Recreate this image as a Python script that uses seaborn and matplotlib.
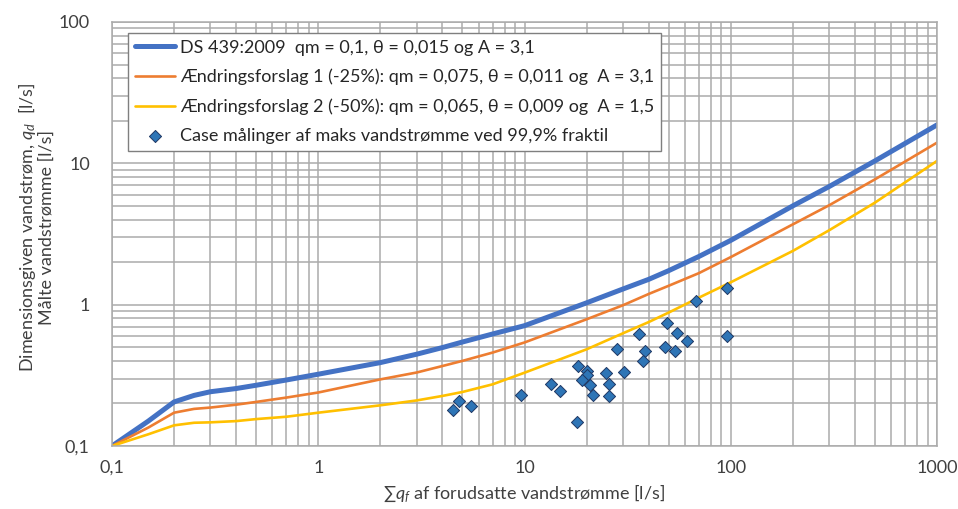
import numpy as np
import pandas as pd
import matplotlib
matplotlib.use("Agg")
import matplotlib.pyplot as plt
import seaborn as sns
from matplotlib.ticker import LogLocator, FuncFormatter, NullFormatter

# curves (x = sum q_f, y = q_d), l/s
sum_qf = [0.1, 0.15, 0.2, 0.25, 0.3, 0.4, 0.5, 0.7, 1, 2, 3, 4, 5, 7, 10,
          20, 30, 40, 50, 70, 100, 200, 300, 500, 1000]
qd_ds439 = [0.1, 0.15, 0.205, 0.228, 0.242, 0.255, 0.269, 0.293, 0.322, 0.389,
            0.446, 0.497, 0.544, 0.62, 0.71, 1.03, 1.29, 1.51, 1.74, 2.19,
            2.85, 5.0, 6.85, 10.4, 18.7]
qd_forslag1 = [0.1, 0.135, 0.172, 0.183, 0.187, 0.196, 0.205, 0.22, 0.239,
               0.296, 0.331, 0.368, 0.4, 0.458, 0.54, 0.788, 0.99, 1.19, 1.36,
               1.67, 2.17, 3.7, 5.05, 7.7, 14.0]
qd_forslag2 = [0.1, 0.121, 0.14, 0.146, 0.147, 0.15, 0.155, 0.161, 0.172,
               0.194, 0.21, 0.226, 0.241, 0.273, 0.33, 0.483, 0.627, 0.753,
               0.879, 1.12, 1.44, 2.4, 3.36, 5.27, 10.4]

# case measurements (99,9% fractile)
maal_x = [4.52, 4.81, 5.5, 9.62, 13.5, 14.9, 18.1, 20.0, 20.2, 19.1, 20.8,
          21.6, 18.0, 24.8, 25.7, 25.8, 28.0, 30.4, 35.9, 38.4, 37.7, 48.9,
          48.0, 55.1, 53.7, 61.1, 68.1, 96.2, 96.2]
maal_y = [0.18, 0.208, 0.193, 0.231, 0.274, 0.246, 0.368, 0.34, 0.318, 0.293,
          0.27, 0.231, 0.149, 0.33, 0.274, 0.225, 0.483, 0.336, 0.617, 0.473,
          0.4, 0.746, 0.499, 0.627, 0.473, 0.553, 1.07, 1.32, 0.604]

labels = ["DS 439:2009  qm = 0,1, θ = 0,015 og A = 3,1",
          "Ændringsforslag 1 (-25%): qm = 0,075, θ = 0,011 og  A = 3,1",
          "Ændringsforslag 2 (-50%): qm = 0,065, θ = 0,009 og  A = 1,5",
          "Case målinger af maks vandstrømme ved 99,9% fraktil"]

sns.set_theme(style="white")
plt.rcParams["font.family"] = ["Lato", "DejaVu Sans"]
plt.rcParams["mathtext.fontset"] = "custom"
plt.rcParams["mathtext.it"] = "Lato:italic"
plt.rcParams["mathtext.rm"] = "Lato"

fig = plt.figure(figsize=(9.58, 5.09), dpi=100)
ax = fig.add_axes([0.1169, 0.1238, 0.8612, 0.833])
ax.set_xscale("log")
ax.set_yscale("log")

sns.lineplot(x=sum_qf, y=qd_ds439, ax=ax, color="#4472C4", lw=3.6, label=labels[0])
sns.lineplot(x=sum_qf, y=qd_forslag1, ax=ax, color="#ED7D31", lw=1.9, label=labels[1])
sns.lineplot(x=sum_qf, y=qd_forslag2, ax=ax, color="#FFC000", lw=1.9, label=labels[2])
sns.scatterplot(x=maal_x, y=maal_y, ax=ax, marker="D", s=38, color="#2E75B6",
                edgecolor="#1F3864", linewidth=0.7, label=labels[3], zorder=5)

ax.set_xlim(0.1, 1000)
ax.set_ylim(0.1, 100)

for axis in (ax.xaxis, ax.yaxis):
    axis.set_major_locator(LogLocator(base=10))
    axis.set_minor_locator(LogLocator(base=10, subs=np.arange(2, 10)))
    axis.set_minor_formatter(NullFormatter())
    axis.set_major_formatter(FuncFormatter(lambda v, p: f"{v:g}".replace(".", ",")))

ax.grid(True, which="both", color="#ABABAB", lw=1.1)
ax.tick_params(which="both", length=0, labelsize=13, colors="#404040")
ax.tick_params(axis="y", pad=16)
ax.tick_params(axis="x", pad=10)
for sp in ax.spines.values():
    sp.set_color("#ABABAB")
    sp.set_linewidth(1.1)

ax.set_xlabel(r"∑$q_f$ af forudsatte vandstrømme [l/s]", fontsize=13, color="#404040", labelpad=5)
ax.set_ylabel("Dimensionsgiven vandstrøm, $q_d$  [l/s]\nMålte vandstrømme [l/s]",
              fontsize=13, color="#404040", linespacing=1.1)
ax.yaxis.set_label_coords(-0.069, 0.515)

leg = ax.legend(loc="upper left", bbox_to_anchor=(0.019, 0.975), fontsize=13,
                frameon=True, fancybox=False, framealpha=1, edgecolor="#7F7F7F",
                labelspacing=0.72, handlelength=2.2, handletextpad=0.3,
                borderpad=0.4, borderaxespad=0)
leg.get_frame().set_linewidth(1.0)
for t in leg.get_texts():
    t.set_color("#262626")

fig.savefig("out.png", dpi=100)
